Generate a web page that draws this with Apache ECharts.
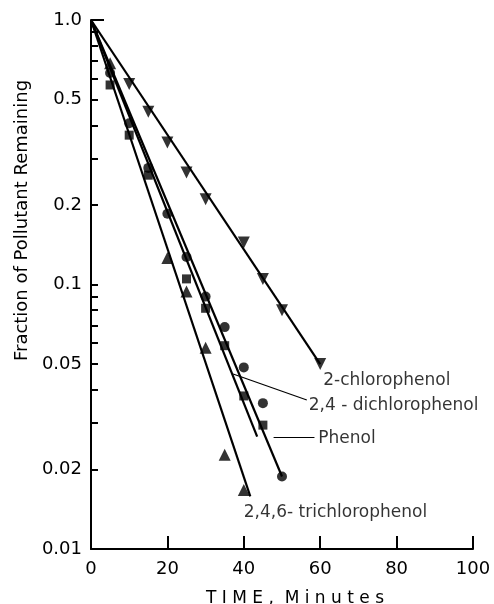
<!DOCTYPE html>
<html>
<head>
<meta charset="utf-8">
<script src="https://cdn.jsdelivr.net/npm/echarts@6/dist/echarts.min.js"></script>
<style>html,body{margin:0;padding:0;background:#fff;}#c{width:494px;height:604px;}</style>
</head>
<body>
<div id="c"></div>
<script>
// ---- data ----
const xTicks = [0, 20, 40, 60, 80, 100];
const yLabelTicks = [0.01, 0.02, 0.05, 0.1, 0.2, 0.5, 1.0];
const yMinorTicks = [0.01,0.02,0.03,0.04,0.05,0.06,0.07,0.08,0.09,0.1,0.2,0.3,0.4,0.5,0.6,0.7,0.8,0.9,1.0];

const chloroT   = [10, 15, 20, 25, 30, 40, 45, 50, 60];
const chloroV   = [0.573, 0.45, 0.344, 0.265, 0.21, 0.144, 0.105, 0.080, 0.050];
const dichloroT = [5, 10, 15, 20, 25, 30, 35, 40, 45, 50];
const dichloroV = [0.63, 0.407, 0.276, 0.185, 0.127, 0.090, 0.069, 0.0486, 0.0356, 0.0188];
const phenolT   = [5, 10, 15, 25, 30, 35, 40, 45];
const phenolV   = [0.568, 0.367, 0.259, 0.105, 0.0813, 0.0587, 0.0379, 0.0294];
const trichloroT = [5, 20, 25, 30, 35, 40];
const trichloroV = [0.686, 0.126, 0.094, 0.0577, 0.0227, 0.0167];

// fitted lines (start, end)
const chloroFitT = [0, 60],    chloroFitV = [1.0, 0.050];
const dichloroFitT = [0, 50],  dichloroFitV = [1.0, 0.0188];
const phenolFitT = [0, 43.5],  phenolFitV = [1.0, 0.0266];
const trichloroFitT = [0, 41.7], trichloroFitV = [1.0, 0.0158];

// annotation labels
const labelNames = ['2-chlorophenol', '2,4 - dichlorophenol', 'Phenol', '2,4,6- trichlorophenol'];
const labelT = [60.8, 57, 59.5, 40];
const labelV = [0.0435, 0.035, 0.0262, 0.0137];
const dichloroLeaderT = [37.2, 56.5], dichloroLeaderV = [0.0459, 0.0366];
const phenolLeaderT = [47.8, 58.5], phenolLeaderV = [0.0264, 0.0264];
const topTickV = [1.0];

const zip = (a, b) => a.map((v, i) => [v, b[i]]);

const FONT = 'DejaVu Sans';
const chart = echarts.init(document.getElementById('c'), null, {renderer: 'canvas'});

function fitLine(t, v) {
  return {type: 'line', data: zip(t, v), symbol: 'none', silent: true,
    lineStyle: {color: '#000', width: 2.2}, z: 2};
}
function marks(t, v, symbol, size, rot) {
  return {type: 'scatter', data: zip(t, v), symbol: symbol, symbolSize: size,
    symbolRotate: rot || 0, itemStyle: {color: '#000'}, z: 3};
}

chart.setOption({
  animation: false,
  backgroundColor: '#fff',
  grid: {left: 91, right: 21, top: 20, bottom: 55, containLabel: false, outerBoundsMode: 'none'},
  xAxis: {
    type: 'value', min: 0, max: 100, interval: 20,
    name: 'T I M E ,  M i n u t e s', nameLocation: 'middle', nameGap: 41,
    nameTextStyle: {fontFamily: FONT, fontSize: 17, color: '#000', padding: [0, 0, 0, 26]},
    axisLine: {lineStyle: {color: '#000', width: 2}},
    axisTick: {inside: true, length: 13, lineStyle: {color: '#000', width: 2}},
    axisLabel: {fontFamily: FONT, fontSize: 18, color: '#000', margin: 11},
    splitLine: {show: false}
  },
  yAxis: [{
    type: 'log', logBase: 10, min: 0.01, max: 1,
    name: 'Fraction of Pollutant Remaining', nameLocation: 'middle', nameGap: 57,
    nameRotate: 90,
    nameTextStyle: {fontFamily: FONT, fontSize: 18, color: '#000', padding: [0, 0, 0, 128]},
    axisLine: {lineStyle: {color: '#000', width: 2}},
    axisTick: {inside: true, length: 7, lineStyle: {color: '#000', width: 2}, customValues: yMinorTicks},
    axisLabel: {fontFamily: FONT, fontSize: 18, color: '#000', margin: 9, customValues: yLabelTicks,
      formatter: function (v) { const r = Number(Number(v).toPrecision(2)); return r === 1 ? '1.0' : String(r); }},
    splitLine: {show: false}, minorTick: {show: false}
  }, {
    type: 'log', logBase: 10, min: 0.01, max: 1, position: 'left', offset: 0,
    axisLine: {show: false}, axisLabel: {show: false}, splitLine: {show: false},
    axisTick: {inside: true, length: 13, lineStyle: {color: '#000', width: 2}, customValues: topTickV}
  }],
  series: [
    fitLine(chloroFitT, chloroFitV),
    fitLine(dichloroFitT, dichloroFitV),
    fitLine(phenolFitT, phenolFitV),
    fitLine(trichloroFitT, trichloroFitV),
    {type: 'line', data: zip(dichloroLeaderT, dichloroLeaderV), symbol: 'none', lineStyle: {color: '#000', width: 1.2}},
    {type: 'line', data: zip(phenolLeaderT, phenolLeaderV), symbol: 'none', lineStyle: {color: '#000', width: 1.2}},
    marks(chloroT, chloroV, 'triangle', 12, 180),
    marks(dichloroT, dichloroV, 'circle', 10),
    marks(phenolT, phenolV, 'rect', 9),
    marks(trichloroT, trichloroV, 'triangle', 12),
    {type: 'scatter', symbolSize: 0, silent: true,
     data: labelNames.map((n, i) => ({value: [labelT[i], labelV[i]], name: n})),
     label: {show: true, position: 'right', distance: 0, formatter: '{b}',
       fontFamily: FONT, fontSize: 17, color: '#000'}}
  ]
});
</script>
</body>
</html>
